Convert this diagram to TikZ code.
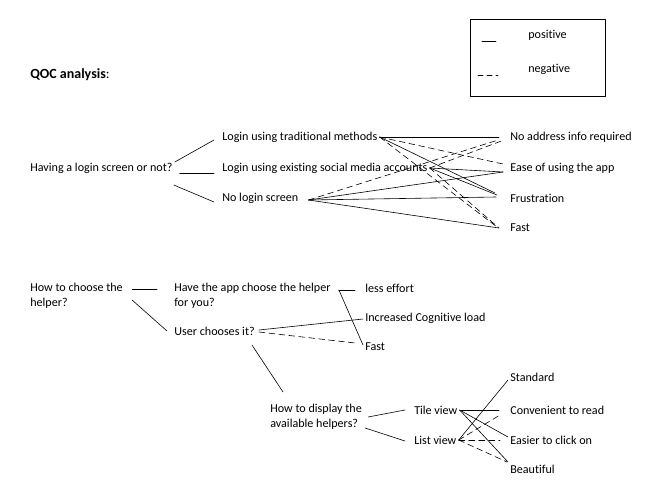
\documentclass[tikz,border=0pt]{standalone}
\usepackage{fontspec}
\setmainfont{Carlito}[Ligatures=NoCommon]
\usetikzlibrary{positioning}
\tikzset{>=latex}
\tikzset{
	txt/.style={anchor=west,inner xsep=2pt,inner ysep=1pt,align=left,font=\fontsize{12.1}{15.5}\selectfont},
	crit/.style={txt,inner xsep=11pt},
	neg/.style={dash pattern=on 6pt off 4pt},
}

\begin{document}
\begin{tikzpicture}[line cap=round,line join=round,x=1pt,y=-1pt,line width=0.6pt]
	\useasboundingbox (0,0) rectangle (654,488);
	% title and legend
	\node[txt,font=\fontsize{14}{16}\selectfont] (title) at (28,75) {\textbf{QOC analysis}:};
	\draw (470,19) rectangle (605,96);
	\node[txt] (pos) at (526,35) {positive};
	\node[txt] (negl) at (526,69) {negative};
	\draw (482,41) -- (496,41);
	\draw[dash pattern=on 5pt off 4pt] (478,75) -- (498,75);
	% login question
	\node[txt] (Q1) at (28,168) {Having a login screen or not?};
	\node[txt] (T) at (220,137) {Login using traditional methods};
	\node[txt] (S) at (220,168) {Login using existing social media accounts};
	\node[txt] (N) at (220,198) {No login screen};
	\node[crit] (NA) at (499,137) {No address info required};
	\node[crit] (EU) at (499,168) {Ease of using the app};
	\node[crit] (FR) at (499,198) {Frustration};
	\node[crit] (FA) at (499,228) {Fast};
	\draw ([shift={(0,-6)}]Q1.east) -- ([shift={(-6,3)}]T.west);
	\draw ([shift={(5,5)}]Q1.east) -- ([shift={(-6,5)}]S.west);
	\draw ([shift={(-1,17)}]Q1.east) -- ([shift={(-6,4)}]N.west);
	\draw (T.east) -- (NA.west);
	\draw[neg] (T.east) -- ([shift={(4,-4)}]EU.west);
	\draw (T.east) -- ([shift={(-4,-5)}]FR.west);
	\draw[neg] (T.east) -- ([shift={(-2,-1)}]FA.west);
	\draw[neg] (S.east) -- ([shift={(5,3)}]NA.west);
	\draw (S.east) -- ([shift={(4,4)}]EU.west);
	\draw (S.east) -- ([shift={(-2,-3)}]FR.west);
	\draw[neg] (S.east) -- (FA.west);
	\draw[neg] ([shift={(8,2)}]N.east) -- ([shift={(-1,3)}]NA.west);
	\draw ([shift={(8,2)}]N.east) -- ([shift={(4,4)}]EU.west);
	\draw ([shift={(8,2)}]N.east) -- ([shift={(-3,-1)}]FR.west);
	\draw ([shift={(8,2)}]N.east) -- (FA.west);
	% helper question
	\node[txt] (Q2) at (28,296) {How to choose the\\helper?};
	\node[txt] (HA) at (172,296) {Have the app choose the helper\\for you?};
	\node[txt] (UC) at (172,331) {User chooses it?};
	\node[txt] (LE) at (363,288) {less effort};
	\node[txt] (IC) at (363,318) {Increased Cognitive load};
	\node[txt] (FS) at (363,347) {Fast};
	\draw ([shift={(7,-7)}]Q2.east) -- ([shift={(-15,-7)}]HA.west);
	\draw ([shift={(7,4)}]Q2.east) -- ([shift={(-5,0)}]UC.west);
	\draw ([shift={(6,-6)}]HA.east) -- ([shift={(-8,2)}]LE.west);
	\draw ([shift={(6,-6)}]HA.east) -- ([shift={(0,-2)}]FS.west);
	\draw ([shift={(2,-1)}]UC.east) -- ([shift={(0,1)}]IC.west);
	\draw[neg] ([shift={(2,1)}]UC.east) -- ([shift={(-8,-4)}]FS.west);
	% display question
	\node[txt] (Q3) at (268,417) {How to display the\\available helpers?};
	\node[txt] (TV) at (412,410) {Tile view};
	\node[txt] (LV) at (412,440) {List view};
	\node[crit] (ST) at (499,377) {Standard};
	\node[crit] (CR) at (499,410) {Convenient to read};
	\node[crit] (EC) at (499,440) {Easier to click on};
	\node[crit] (BE) at (499,469) {Beautiful};
	\draw ([shift={(-5,14)}]UC.east) -- ([shift={(15,-25)}]Q3.west);
	\draw ([shift={(4,0)}]Q3.east) -- ([shift={(-7,0)}]TV.west);
	\draw ([shift={(1,11)}]Q3.east) -- ([shift={(-7,1)}]LV.west);
	\draw (TV.east) -- (CR.west);
	\draw (TV.east) -- ([shift={(9,-3)}]EC.west);
	\draw (TV.east) -- ([shift={(9,-7)}]BE.west);
	\draw (LV.east) -- ([shift={(9,3)}]ST.west);
	\draw[neg] (LV.east) -- ([shift={(1,5)}]CR.west);
	\draw[neg] (LV.east) -- ([shift={(1,0)}]EC.west);
	\draw[neg] (LV.east) -- ([shift={(8,-7)}]BE.west);
\end{tikzpicture}
\end{document}
